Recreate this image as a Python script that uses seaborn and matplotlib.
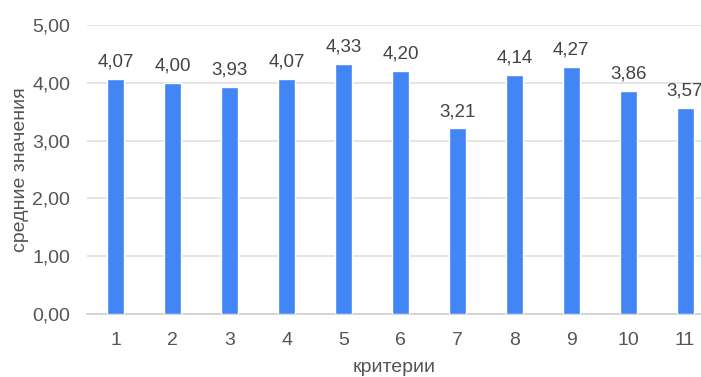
import matplotlib
matplotlib.use("Agg")
import matplotlib.pyplot as plt
import seaborn as sns
import pandas as pd

# Criteria and their average scores
criteria = ["1", "2", "3", "4", "5", "6", "7", "8", "9", "10", "11"]
means = [4.07, 4.00, 3.93, 4.07, 4.33, 4.20, 3.21, 4.14, 4.27, 3.86, 3.57]
y_ticks = [0, 1, 2, 3, 4, 5]

df = pd.DataFrame({"criterion": criteria, "mean": means})

sns.set_theme(style="white")
plt.rcParams["font.family"] = ["Liberation Sans", "DejaVu Sans"]

fig = plt.figure(figsize=(7.01, 3.77), dpi=100)
ax = fig.add_axes([0.124, 0.167, 0.876, 0.767])

sns.barplot(data=df, x="criterion", y="mean", color="#4285F4", width=0.3,
            saturation=1, ax=ax, zorder=3)

def fmt(v):
    return f"{v:.2f}".replace(".", ",")

for patch, v in zip(ax.patches, means):
    ax.annotate(fmt(v), (patch.get_x() + patch.get_width() / 2, v),
                xytext=(0, 6), textcoords="offset points",
                ha="center", va="bottom", fontsize=13.5, color="#444444")

ax.set_ylim(0, 5)
ax.set_xlim(-0.51, 10.28)
ax.set_yticks(y_ticks)
ax.set_yticklabels([fmt(t) for t in y_ticks])
ax.yaxis.grid(True, color="#e0e0e0", linewidth=1.2, zorder=0)
ax.set_axisbelow(True)
for s in ["top", "right", "left"]:
    ax.spines[s].set_visible(False)
ax.spines["bottom"].set_color("#d0d0d0")
ax.tick_params(axis="both", length=0, labelsize=14, colors="#555555")
ax.tick_params(axis="y", pad=12)
ax.tick_params(axis="x", pad=13)

ax.set_xlabel("критерии", fontsize=14, color="#555555", labelpad=7)
ax.set_ylabel("средние значения", fontsize=14, color="#555555", labelpad=2)

fig.savefig("out.png", dpi=100)
